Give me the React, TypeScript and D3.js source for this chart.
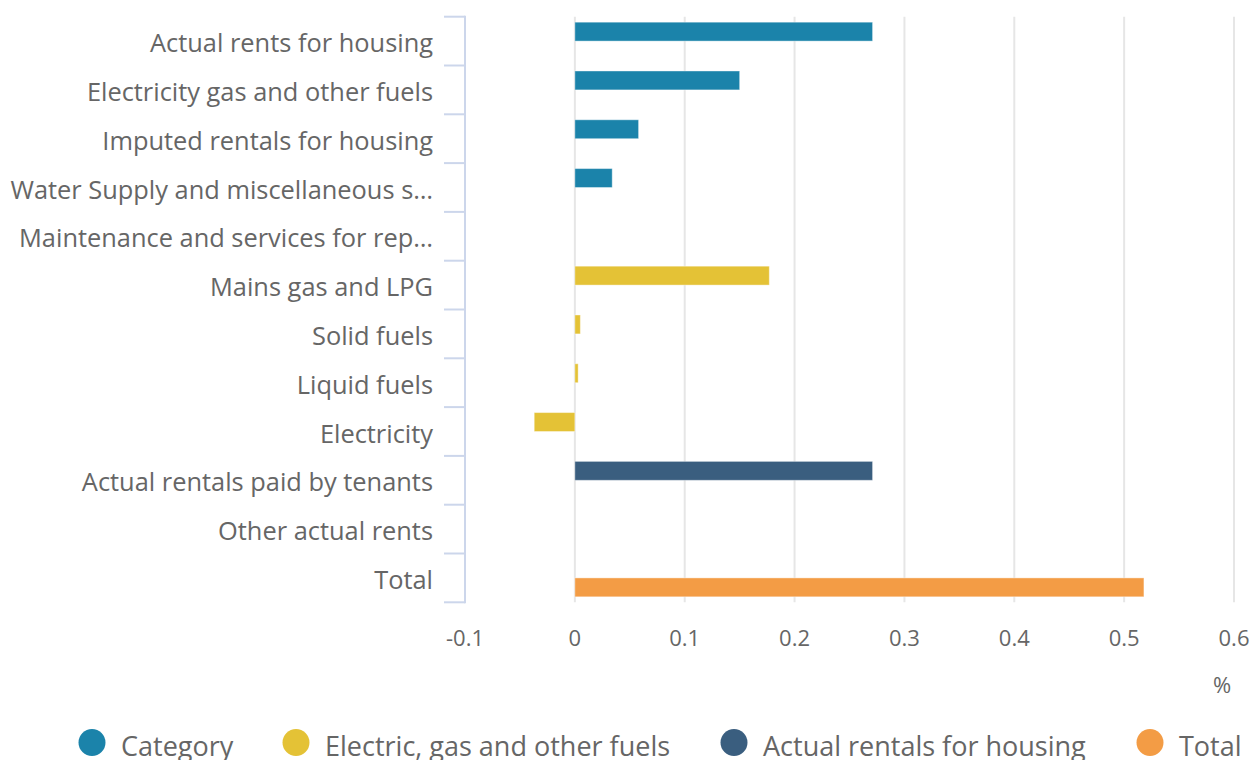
import React from "react";
import * as d3 from "d3";

const categories = [
  "Actual rents for housing",
  "Electricity gas and other fuels",
  "Imputed rentals for housing",
  "Water Supply and miscellaneous s…",
  "Maintenance and services for rep…",
  "Mains gas and LPG",
  "Solid fuels",
  "Liquid fuels",
  "Electricity",
  "Actual rentals paid by tenants",
  "Other actual rents",
  "Total",
];

const seriesNames = ["Category", "Electric, gas and other fuels", "Actual rentals for housing", "Total"];
const seriesColors = ["#1b83aa", "#e4c236", "#3a5e7f", "#f39c45"];

// value per category, series index, slot within the group
const values: (number | null)[] = [0.271, 0.15, 0.058, 0.034, null, 0.177, 0.005, 0.003, -0.037, 0.271, null, 0.518];
const seriesOf = [0, 0, 0, 0, 0, 1, 1, 1, 1, 2, 2, 3];
const slotOf = [0, 0, 0, 0, 0, 0, 0, 0, 0, 0, 0, 1];

const xTicks = [-0.1, 0, 0.1, 0.2, 0.3, 0.4, 0.5, 0.6];

const W = 1252;
const H = 760;
const plotLeft = 465;
const plotRight = 1234;
const plotTop = 16.7;
const plotBottom = 602.3;

export default function App() {
  const x = d3.scaleLinear().domain([-0.1, 0.6]).range([plotLeft, plotRight]);
  const y = d3.scaleBand<string>().domain(categories).range([plotTop, plotBottom]).paddingInner(0).paddingOuter(0);
  const slot = d3.scaleBand<number>().domain([0, 1]).range([0, y.bandwidth()]).paddingOuter(0.29).paddingInner(0);
  const font = "'Open Sans', sans-serif";
  const textColor = "#666666";
  const legendX = [92, 296, 734, 1150];

  return (
    <svg width={W} height={H} style={{ position: "absolute", left: 0, top: 0, background: "#fff" }} fontFamily={font}>
      {/* grid lines */}
      {xTicks.slice(1).map((t) => (
        <line key={"g" + t} x1={x(t)} x2={x(t)} y1={plotTop} y2={plotBottom} stroke="#e6e6e6" strokeWidth={2} />
      ))}
      {/* bars */}
      {values.map((v, i) => {
        if (v === null) return null;
        const c = categories[i];
        const y0 = (y(c) as number) + (slot(slotOf[i]) as number);
        const x0 = Math.min(x(0), x(v));
        const w = Math.abs(x(v) - x(0));
        return (
          <rect key={"b" + i} x={x0} y={y0} width={w} height={slot.bandwidth()} fill={seriesColors[seriesOf[i]]} stroke="#fff" strokeOpacity={0.4} strokeWidth={1} />
        );
      })}
      {/* y axis line */}
      <line x1={plotLeft} x2={plotLeft} y1={plotTop - 1} y2={plotBottom + 1} stroke="#ccd6eb" strokeWidth={2} />
      {/* y ticks */}
      {d3.range(categories.length + 1).map((i) => {
        const yy = plotTop + i * y.bandwidth();
        return <line key={"t" + i} x1={444} x2={plotLeft} y1={yy} y2={yy} stroke="#ccd6eb" strokeWidth={2} />;
      })}
      {/* y labels */}
      {categories.map((c) => (
        <text key={"l" + c} x={433} y={(y(c) as number) + y.bandwidth() / 2 + 11} textAnchor="end" fontSize={25.4} fill={textColor}>
          {c}
        </text>
      ))}
      {/* x labels */}
      {xTicks.map((t) => (
        <text key={"x" + t} x={x(t)} y={646} textAnchor="middle" fontSize={22} fill={textColor}>
          {t === 0 ? "0" : d3.format(".1f")(t).replace("−", "-")}
        </text>
      ))}
      <text x={1222} y={693} textAnchor="middle" fontSize={22} fill={textColor}>%</text>
      {/* legend */}
      {seriesNames.map((s, i) => (
        <g key={"lg" + s}>
          <circle cx={legendX[i]} cy={742.5} r={13.5} fill={seriesColors[i]} />
          <text x={legendX[i] + 29} y={756} fontSize={27} fill={textColor}>{s}</text>
        </g>
      ))}
    </svg>
  );
}
